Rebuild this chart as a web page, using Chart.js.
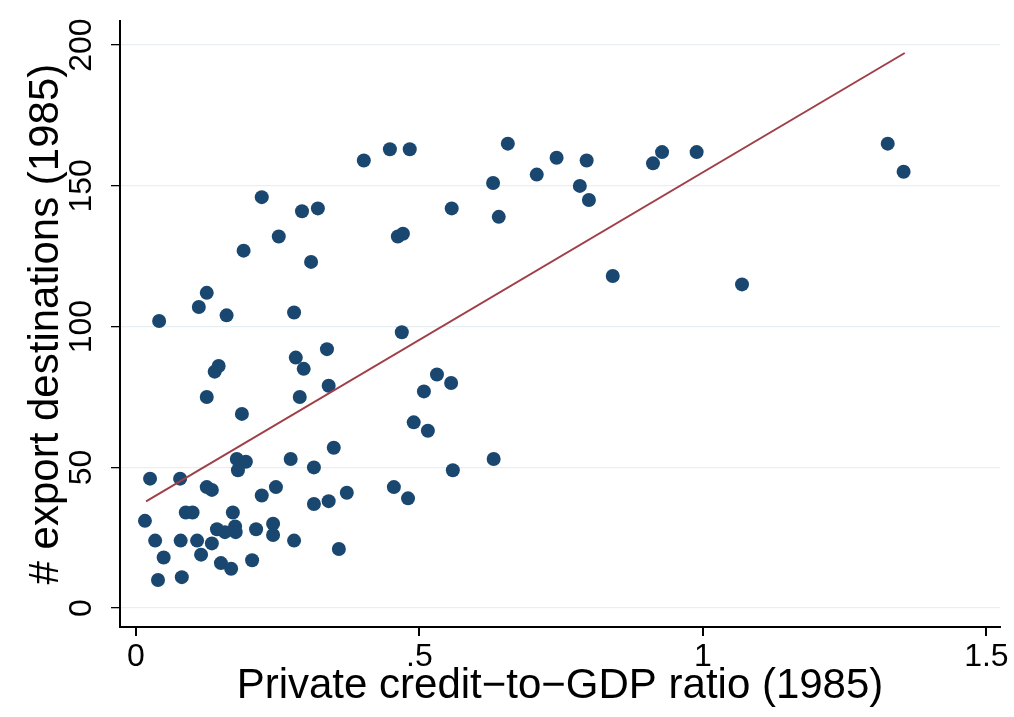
<!DOCTYPE html>
<html>
<head>
<meta charset="utf-8">
<script src="https://cdn.jsdelivr.net/npm/chart.js@4/dist/chart.umd.min.js"></script>
<style>
  html, body { margin: 0; padding: 0; background: #fff; }
  #wrap { width: 1014px; height: 717px; }
</style>
</head>
<body>
<div id="wrap"><canvas id="chart" width="1014" height="717"></canvas></div>
<script>
// Private credit-to-GDP ratio (1985), one value per country
const creditRatio = [
  0.016, 0.025, 0.034, 0.039, 0.041, 0.049, 0.078, 0.079, 0.081, 0.088,
  0.100, 0.108, 0.111, 0.115, 0.125, 0.125, 0.125, 0.134, 0.134, 0.139,
  0.146, 0.143, 0.150, 0.157, 0.160, 0.168, 0.171, 0.175, 0.176, 0.178,
  0.180, 0.187, 0.190, 0.194, 0.205, 0.212, 0.222, 0.222, 0.242, 0.242,
  0.247, 0.252, 0.273, 0.279, 0.279, 0.282, 0.289, 0.293, 0.296, 0.309,
  0.314, 0.314, 0.321, 0.337, 0.340, 0.340, 0.349, 0.358, 0.372, 0.402,
  0.448, 0.455, 0.462, 0.471, 0.469, 0.480, 0.483, 0.490, 0.508, 0.515,
  0.531, 0.556, 0.557, 0.559, 0.631, 0.630, 0.640, 0.656, 0.707, 0.742,
  0.783, 0.795, 0.799, 0.841, 0.912, 0.928, 0.989, 1.069, 1.326, 1.354
];
// # export destinations (1985), same order
const exportDest = [
  31, 46, 24, 10, 102, 18, 46, 24, 11, 34,
  34, 24, 107, 19, 112, 75, 43, 42, 23, 84,
  86, 28, 16, 27, 104, 14, 34, 29, 27, 53,
  49, 69, 127, 52, 17, 28, 146, 40, 30, 26,
  43, 132, 53, 105, 24, 89, 75, 141, 85, 123,
  50, 37, 142, 92, 79, 38, 57, 21, 41, 159,
  163, 43, 132, 133, 98, 39, 163, 66, 77, 63,
  83, 80, 142, 49, 53, 151, 139, 165, 154, 160,
  150, 159, 145, 118, 158, 162, 162, 115, 165, 155
];
// fitted line, read at its two ends
const fitX = [0.018, 1.356];
const fitY = [37.9, 197.2];

const xTicks = [0, 0.5, 1, 1.5];
const yTicks = [0, 50, 100, 150, 200];

const FONT = "'Liberation Sans', Arial, Helvetica, sans-serif";
const dotColor = '#1a476f';
const lineColor = '#a03f48';

const scatterData = creditRatio.map((x, i) => ({ x: x, y: exportDest[i] }));
const fitData = fitX.map((x, i) => ({ x: x, y: fitY[i] }));

const fmtX = v => (v > 0 && v < 1) ? String(v).replace(/^0/, '') : String(v);

new Chart(document.getElementById('chart'), {
  type: 'scatter',
  data: {
    datasets: [
      {
        label: 'Countries',
        data: scatterData,
        backgroundColor: dotColor,
        borderWidth: 0,
        pointRadius: 7,
        order: 2
      },
      {
        type: 'line',
        label: 'Fitted values',
        data: fitData,
        borderColor: lineColor,
        borderWidth: 2,
        pointRadius: 0,
        fill: false,
        order: 1
      }
    ]
  },
  options: {
    responsive: false,
    animation: false,
    layout: { padding: { left: 0, top: 20, right: 14, bottom: 0 } },
    plugins: {
      legend: { display: false },
      tooltip: { enabled: false }
    },
    scales: {
      x: {
        type: 'linear',
        min: -0.028,
        max: 1.524,
        afterBuildTicks: s => { s.ticks = xTicks.map(v => ({ value: v })); },
        afterFit: s => { s.height = 90; },
        border: { display: true, color: '#000', width: 2 },
        grid: { display: true, drawOnChartArea: false, drawTicks: true, tickLength: 9, tickColor: '#000', lineWidth: 2 },
        ticks: {
          color: '#000',
          font: { family: FONT, size: 32 },
          padding: 2,
          maxRotation: 0,
          callback: v => fmtX(v)
        },
        title: {
          display: true,
          text: 'Private credit\u2212to\u2212GDP ratio (1985)',
          color: '#000',
          font: { family: FONT, size: 42, lineHeight: 1.2 },
          padding: { top: 0, bottom: 5 }
        }
      },
      y: {
        type: 'linear',
        min: -6.7,
        max: 208.5,
        afterBuildTicks: s => { s.ticks = yTicks.map(v => ({ value: v })); },
        afterFit: s => { s.width = 120; },
        border: { display: true, color: '#000', width: 2 },
        grid: { display: true, color: '#e6eff1', lineWidth: 1.3, drawTicks: true, tickLength: 9, tickColor: '#000' },
        ticks: {
          color: '#000',
          font: { family: FONT, size: 32 },
          padding: 2,
          minRotation: 90,
          maxRotation: 90,
          crossAlign: 'center',
          callback: v => String(v)
        },
        title: {
          display: true,
          text: '# export destinations (1985)',
          color: '#000',
          font: { family: FONT, size: 42, lineHeight: 1.2 },
          padding: { top: 21, bottom: 0 }
        }
      }
    }
  }
});
</script>
</body>
</html>
